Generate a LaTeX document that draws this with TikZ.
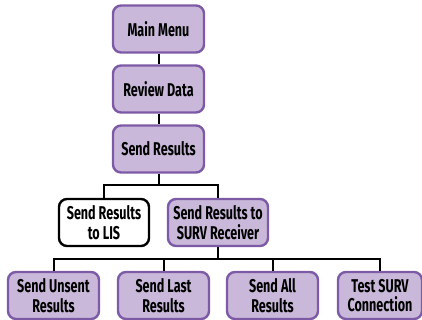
\documentclass[tikz,border=0pt]{standalone}
\usepackage{fontspec}
\setmainfont{Fira Sans}[FakeStretch=0.68]
\definecolor{menufill}{HTML}{C9B8D9}
\definecolor{menuedge}{HTML}{7D5AA6}

\begin{document}
\begin{tikzpicture}[x=1pt,y=-1pt,
  menubox/.style={draw=menuedge,fill=menufill,line width=2.4pt,rounded corners=8pt,
    minimum width=91pt,minimum height=47pt,align=center,inner sep=2pt,
    font=\fontsize{18.5}{19.5}\selectfont\bfseries},
  plainbox/.style={menubox,draw=black,fill=white},
  link/.style={line width=2pt}]
\useasboundingbox (0,0) rectangle (422,320);

\node[menubox] (menu) at (158.5,29) {Main Menu};
\node[menubox] (review) at (158.5,89) {Review Data};
\node[menubox] (send) at (158.5,149) {Send Results};

\node[plainbox,minimum width=90pt] (lis) at (104,222.5) {Send Results\\to LIS};
\node[menubox,minimum width=100pt] (surv) at (218,222.5) {Send Results to\\SURV Receiver};

\node[menubox] (unsent) at (53.5,295.5) {Send Unsent\\Results};
\node[menubox] (last) at (163.5,295.5) {Send Last\\Results};
\node[menubox] (all) at (272.5,295.5) {Send All\\Results};
\node[menubox,minimum width=84pt] (test) at (380,295.5) {Test SURV\\Connection};

\coordinate (j1) at (158.5,185);
\coordinate (j2) at (218,259);

\draw[link] (menu) -- (review);
\draw[link] (review) -- (send);
\draw[link] (send) -- (j1);
\foreach \n in {lis,surv}
  \draw[link] (\n.north) |- (j1);
\draw[link] (surv) -- (j2);
\foreach \n in {unsent,last,all,test}
  \draw[link] (\n.north) |- (j2);
\end{tikzpicture}
\end{document}
